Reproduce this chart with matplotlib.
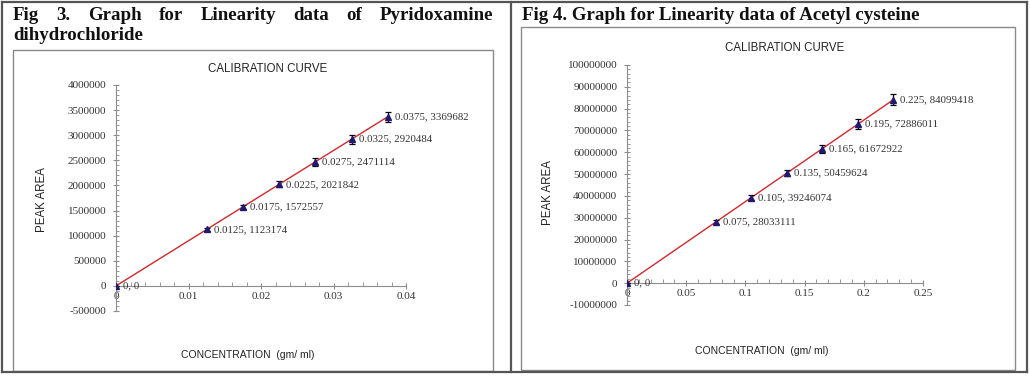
import numpy as np
import matplotlib
matplotlib.use("Agg")
import matplotlib.pyplot as plt
from matplotlib.patches import Rectangle
from matplotlib.lines import Line2D
from matplotlib.ticker import MultipleLocator, FuncFormatter

plt.rcParams['axes.unicode_minus'] = False

# Fig 3 - Pyridoxamine dihydrochloride
pyr_conc = [0, 0.0125, 0.0175, 0.0225, 0.0275, 0.0325, 0.0375]
pyr_area = [0, 1123174, 1572557, 2021842, 2471114, 2920484, 3369682]
pyr_err = [0, 34000, 47000, 61000, 74000, 88000, 101000]

# Fig 4 - Acetyl cysteine
ace_conc = [0, 0.075, 0.105, 0.135, 0.165, 0.195, 0.225]
ace_area = [0, 28033111, 39246074, 50459624, 61672922, 72886011, 84099418]
ace_err = [0, 840000, 1180000, 1510000, 1850000, 2190000, 2520000]

W, H = 1030, 378
fig = plt.figure(figsize=(W / 100, H / 100), dpi=100)

serif = 'Liberation Serif'
sans = 'Liberation Sans'


def px_rect(x0, y0, x1, y1):
    # pixel box (top-left origin) -> figure fraction
    return [x0 / W, 1 - y1 / H, (x1 - x0) / W, (y1 - y0) / H]


# table frame
frame_col = '#555555'
for (x0, y0, x1, y1) in [(2, 2, 1027, 2), (2, 372, 1027, 372), (2, 2, 2, 372),
                         (511, 2, 511, 372), (1027, 2, 1027, 372)]:
    fig.add_artist(Line2D([x0 / W, x1 / W], [1 - y0 / H, 1 - y1 / H], color=frame_col, lw=1.6))
# inner chart boxes
for (x0, y0, x1, y1) in [(13, 50, 493, 371), (521, 27, 1015, 370)]:
    fig.add_artist(Rectangle((x0 / W, 1 - y1 / H), (x1 - x0) / W, (y1 - y0) / H,
                             transform=fig.transFigure, fill=False, ec='#8a8a8a', lw=1.0))

# headers
hdr = dict(family=serif, fontweight='bold', fontsize=13.6, color='#111111', va='baseline')
words = "Fig 3. Graph for Linearity data of Pyridoxamine".split()
fig.canvas.draw()
r = fig.canvas.get_renderer()
txts = [fig.text(0, 1 - 20.5 / H, w, **hdr) for w in words]
widths = [t.get_window_extent(r).width for t in txts]
gap = (493 - 13 - sum(widths)) / (len(words) - 1)
x = 13
for t, w in zip(txts, widths):
    t.set_x(x / W)
    x += w + gap
fig.text(13 / W, 1 - 40.5 / H, "dihydrochloride", **hdr)
fig.text(522 / W, 1 - 20.5 / H, "Fig 4. Graph for Linearity data of Acetyl cysteine", **hdr)


def calib(ax, conc, area, err, xmax, xmaj, xmin, ymin, ymax, ymaj, ymin_step):
    ax.plot(conc, area, color='#d0282c', lw=1.0, zorder=2)
    ax.errorbar(conc, area, yerr=err, fmt='^', color='#1f1a6e', ms=5,
                ecolor='black', elinewidth=0.9, capsize=2, capthick=0.9, zorder=3)
    for cx, cy in zip(conc, area):
        lab = "0, 0" if cy == 0 else f"{cx:g}, {cy}"
        ax.annotate(lab, (cx, cy), xytext=(5, 0), textcoords='offset points',
                    va='center', ha='left', family=serif, fontsize=7.8, color='#333333')
    ax.set_xlim(0, xmax)
    ax.set_ylim(ymin, ymax)
    for s in ['top', 'right']:
        ax.spines[s].set_visible(False)
    ax.spines['bottom'].set_position(('data', 0))
    ax.spines['left'].set_color('#8c8c8c')
    ax.spines['bottom'].set_color('#8c8c8c')
    ax.xaxis.set_major_locator(MultipleLocator(xmaj))
    ax.xaxis.set_minor_locator(MultipleLocator(xmin))
    ax.yaxis.set_major_locator(MultipleLocator(ymaj))
    ax.yaxis.set_minor_locator(MultipleLocator(ymin_step))
    ax.xaxis.set_major_formatter(FuncFormatter(lambda v, p: f"{v:g}"))
    ax.yaxis.set_major_formatter(FuncFormatter(lambda v, p: f"{int(round(v))}"))
    ax.tick_params(axis='x', which='major', direction='inout', length=5, color='#8c8c8c',
                   labelsize=8, labelcolor='#333333', pad=2)
    ax.tick_params(axis='x', which='minor', direction='in', length=3, color='#8c8c8c')
    ax.tick_params(axis='y', which='major', direction='inout', length=4, color='#8c8c8c',
                   labelsize=8, labelcolor='#333333', pad=5)
    ax.tick_params(axis='y', which='minor', direction='in', length=2, color='#8c8c8c')
    for lbl in ax.get_xticklabels() + ax.get_yticklabels():
        lbl.set_family(serif)
    ax.patch.set_alpha(0)


ax1 = fig.add_axes(px_rect(116, 85, 406, 311))
calib(ax1, pyr_conc, pyr_area, pyr_err, 0.04, 0.01, 0.002, -500000, 4000000, 500000, 100000)
ax2 = fig.add_axes(px_rect(627, 65, 923, 305))
calib(ax2, ace_conc, ace_area, ace_err, 0.25, 0.05, 0.01, -10000000, 100000000, 10000000, 2000000)

lab = dict(family=sans, fontsize=7.5, color='#222222', ha='center', va='center')
ttl = dict(lab, fontsize=8.3)
fig.text(268 / W, 1 - 69 / H, "CALIBRATION CURVE", **ttl)
fig.text(785 / W, 1 - 48 / H, "CALIBRATION CURVE", **ttl)
fig.text(42 / W, 1 - 200 / H, "PEAK AREA", rotation=90, **ttl)
fig.text(548 / W, 1 - 193 / H, "PEAK AREA", rotation=90, **ttl)
fig.text(248 / W, 1 - 355 / H, "CONCENTRATION  (gm/ ml)", **lab)
fig.text(762 / W, 1 - 351 / H, "CONCENTRATION  (gm/ ml)", **lab)

fig.savefig("out.png", dpi=100)
